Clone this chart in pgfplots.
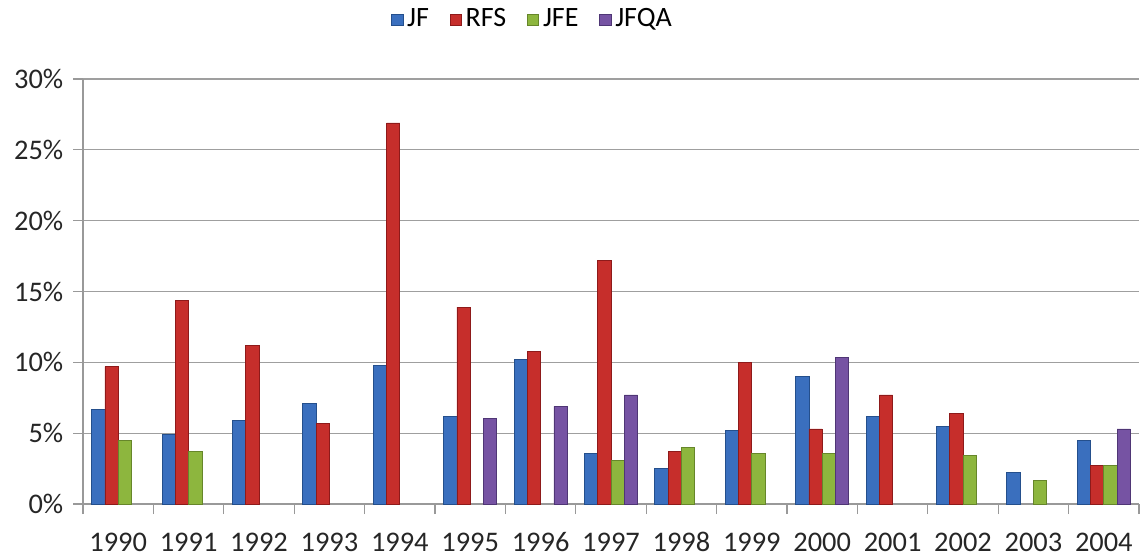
\documentclass[border=0pt]{standalone}
\usepackage{pgfplots}
\pgfplotsset{compat=1.18}
\usepackage{fontspec}
\setmainfont{Carlito}
\definecolor{JFd}{HTML}{244F8C}
\definecolor{JFl}{HTML}{3A6FBE}
\definecolor{RFd}{HTML}{8E1A1A}
\definecolor{RFl}{HTML}{C62E2B}
\definecolor{JEd}{HTML}{66862A}
\definecolor{JEl}{HTML}{8DB63E}
\definecolor{JQd}{HTML}{4F3675}
\definecolor{JQl}{HTML}{7653A3}
\begin{document}
\fontsize{14}{16}\selectfont
\begin{tikzpicture}
\useasboundingbox (-41.5pt,-26.5pt) rectangle (528.5pt,252pt);
\begin{axis}[
  scale only axis,
  width=528pt, height=212.5pt,
  xmin=-0.5, xmax=14.5,
  ymin=0, ymax=30,
  axis lines=left,
  axis line style={-, draw=gray!80, line width=0.6pt},
  ytick={0,5,...,30},
  yticklabel={\pgfmathprintnumber{\tick}\%},
  /pgf/number format/assume math mode=true,
  ymajorgrids,
  grid style={gray!75, line width=0.6pt},
  tick align=outside,
  tick style={draw=gray!80, line width=0.6pt},
  major tick length=5pt,
  xtick={-0.5,0.5,...,14.5},
  xticklabels={},
  extra x ticks={0,1,...,14},
  extra x tick labels={1990,1991,1992,1993,1994,1995,1996,1997,1998,1999,2000,2001,2002,2003,2004},
  extra x tick style={major tick length=0pt, grid=none, xticklabel style={yshift=-9.5pt, text height=9.5pt, text depth=0pt}},
  ticklabel style={font=\fontsize{14.2}{16}\selectfont, text=black!85},
  ybar=0pt, bar width=6.65pt,
  legend style={at={(0.4267,1.139)}, anchor=center, draw=none, fill=none,
     legend columns=-1, font=\fontsize{14}{16}\selectfont,
     /tikz/every even column/.append style={column sep=8.5pt}},
  legend image code/.code={\draw[#1, line width=0.3pt] (0pt,-2.8pt) rectangle (5.6pt,2.8pt);},
]
\addplot[draw=JFd, line width=0.4pt, fill=JFl] coordinates {
(0,6.7) (1,4.9) (2,5.9) (3,7.1) (4,9.8) (5,6.2) (6,10.2) (7,3.6) (8,2.5) (9,5.2) (10,9.0) (11,6.2) (12,5.5) (13,2.2) (14,4.5)};
\addplot[draw=RFd, line width=0.4pt, fill=RFl] coordinates {
(0,9.7) (1,14.4) (2,11.2) (3,5.7) (4,26.9) (5,13.9) (6,10.8) (7,17.2) (8,3.7) (9,10.0) (10,5.3) (11,7.7) (12,6.4) (14,2.7)};
\addplot[draw=JEd, line width=0.4pt, fill=JEl] coordinates {
(0,4.5) (1,3.7) (7,3.1) (8,4.0) (9,3.6) (10,3.55) (12,3.4) (13,1.65) (14,2.7)};
\addplot[draw=JQd, line width=0.4pt, fill=JQl] coordinates {
(5,6.05) (6,6.9) (7,7.7) (10,10.35) (14,5.3)};
\legend{JF,RFS,JFE,JFQA}
\end{axis}
\end{tikzpicture}
\end{document}
